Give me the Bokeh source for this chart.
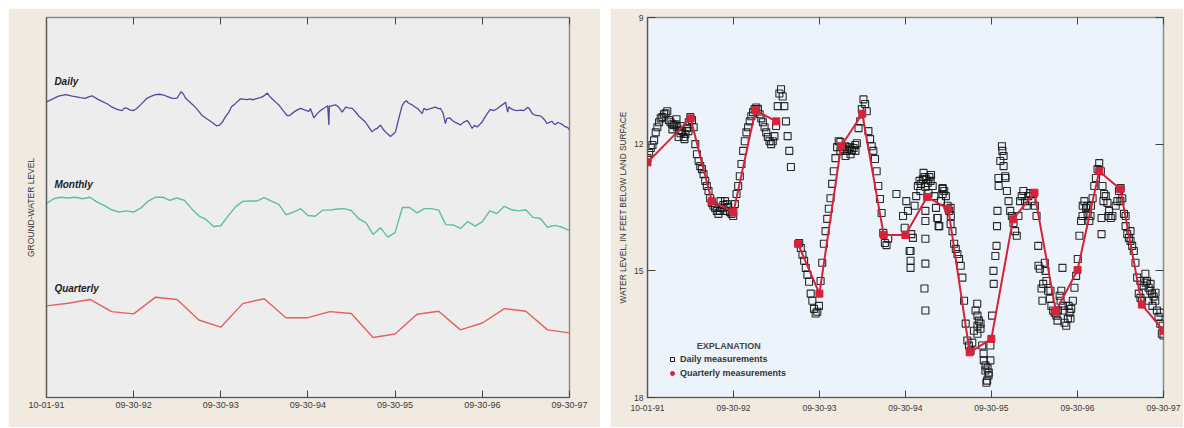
import datetime as dt
import numpy as np
import pandas as pd
from bokeh.plotting import figure
from bokeh.layouts import row, column
from bokeh.models import (Range1d, FixedTicker, DatetimeTickFormatter, DatetimeAxis,
                          LinearAxis, Label, Legend, LegendItem, Spacer)
from bokeh.embed import file_html
from bokeh.resources import INLINE

NAN = float("nan")

# ---------------- data ----------------
tick_dates = ["1991-10-01", "1992-09-30", "1993-09-30", "1994-09-30",
              "1995-09-30", "1996-09-30", "1997-09-30"]

# Left panel (relative ground-water level, arbitrary units)
left_daily_day = [0, 31, 50, 80, 108, 126, 142, 163, 176, 191,
                  212, 230, 254, 272, 296, 317, 327, 338, 348, 363,
                  377, 394, 422, 440, 457, 473, 491, 507, 527, 547,
                  555, 564, 574, 582, 599, 617, 633, 652, 670, 687,
                  700, 712, 725, 736, 750, 764, 775, 792, 813, 825,
                  841, 855, 863, 876, 896, 909, 925, 934, 945, 959,
                  973, 989, 1008, 1018, 1036, 1051, 1064, 1081, 1099, 1106,
                  1120, 1134, 1148, 1162, 1178, 1183, 1185, 1190, 1211, 1223,
                  1239, 1253, 1265, 1281, 1294, 1308, 1320, 1336, 1349, 1364,
                  1374, 1385, 1399, 1408, 1420, 1431, 1441, 1452, 1462, 1472,
                  1481, 1490, 1500, 1508, 1516, 1532, 1542, 1553, 1563, 1574,
                  1581, 1592, 1609, 1617, 1630, 1642, 1650, 1659, 1664, 1671,
                  1677, 1689, 1700, 1713, 1726, 1734, 1747, 1762, 1772, 1783,
                  1793, 1804, 1814, 1825, 1835, 1846, 1860, 1873, 1888, 1898,
                  1909, 1923, 1932, 1937, 1944, 1956, 1972, 1986, 2000, 2016,
                  2023, 2035, 2044, 2056, 2065, 2076, 2086, 2097, 2107, 2118,
                  2124, 2132, 2141, 2153, 2162, 2174, 2183, 2191]
left_daily_level = [77.8, 78.7, 79.3, 79.7, 79.3, 79.1, 78.9, 78.7, 79.1, 79.4,
                    78.6, 78.0, 77.3, 76.5, 75.8, 75.5, 76.2, 76.1, 75.7, 75.5,
                    76.0, 77.0, 78.8, 79.3, 79.7, 79.8, 79.6, 79.2, 78.7, 78.8,
                    79.6, 80.5, 79.8, 78.8, 77.8, 76.8, 75.7, 74.2, 73.4, 72.7,
                    72.1, 71.5, 71.7, 72.4, 73.9, 75.1, 76.5, 77.4, 78.6, 78.5,
                    78.4, 78.6, 78.3, 78.6, 78.9, 79.3, 80.1, 79.3, 78.6, 77.8,
                    77.0, 75.7, 74.2, 74.2, 75.1, 75.7, 76.1, 75.7, 75.3, 76.0,
                    73.6, 74.7, 75.5, 76.1, 76.8, 71.7, 76.7, 76.7, 77.0, 76.5,
                    75.1, 76.4, 76.2, 76.1, 75.2, 74.1, 73.4, 72.5, 71.3, 69.9,
                    70.5, 70.8, 71.7, 70.8, 69.9, 69.3, 68.7, 69.3, 69.9, 72.5,
                    74.7, 76.8, 77.8, 78.1, 77.5, 77.0, 76.5, 76.1, 75.5, 74.7,
                    76.1, 75.7, 76.0, 76.2, 76.4, 76.0, 76.1, 75.2, 74.2, 72.1,
                    73.4, 73.6, 72.9, 72.4, 72.0, 71.7, 72.4, 72.9, 72.1, 70.8,
                    71.6, 71.2, 71.8, 72.5, 73.6, 74.7, 75.8, 75.5, 76.0, 76.5,
                    77.0, 77.7, 75.1, 76.5, 76.1, 75.7, 75.5, 75.6, 75.5, 76.4,
                    76.0, 74.7, 74.4, 74.2, 74.2, 73.8, 73.1, 72.1, 72.4, 72.7,
                    72.1, 71.8, 72.4, 72.1, 71.8, 71.2, 71.1, 70.4]

left_monthly_level = [51.0, 52.3, 52.7, 52.5, 52.7, 52.3, 52.7, 51.4, 50.5, 49.4,
                      48.8, 49.1, 48.8, 49.9, 51.7, 52.7, 52.7, 51.9, 52.5, 51.9,
                      49.7, 47.8, 46.8, 45.0, 45.2, 47.8, 50.1, 51.6, 51.7, 51.7,
                      52.6, 51.7, 50.8, 48.1, 48.8, 49.7, 47.9, 47.7, 49.3, 49.3,
                      49.6, 49.7, 49.2, 47.1, 46.0, 42.9, 44.7, 42.2, 43.4, 50.0,
                      50.0, 48.6, 49.7, 49.7, 49.3, 45.5, 45.4, 44.5, 46.3, 45.1,
                      46.3, 49.1, 48.4, 50.3, 49.4, 49.1, 49.4, 47.4, 47.1, 44.8,
                      45.3, 44.8, 43.9]

left_quarterly_level = [24.1, 24.8, 25.8, 22.6, 22.0, 26.4, 25.8, 20.4, 18.5, 24.7,
                        26.0, 21.0, 21.0, 22.6, 22.1, 15.8, 16.7, 21.9, 22.7, 17.8,
                        19.6, 23.4, 22.7, 17.8, 17.0]

# Right panel: water level, feet below land surface
# daily record read weekly from 1991-10-01 (nan = no record)
daily_ft = [12.33, 12.21, 12.09, 12.02, 11.91, 11.72, 11.60, 11.48, 11.39, 11.36,
            11.29, 11.27, 11.22, 11.43, 11.48, 11.53, 11.55, 11.53, 11.60, 11.67,
            11.74, 11.69, 11.83, 11.76, 11.62, 11.48, 11.36, 11.43, 11.60, 12.00,
            12.24, 12.40, 12.52, 12.59, 12.71, 12.87, 12.99, 13.11, 13.28, 13.39,
            13.46, 13.51, 13.58, 13.65, 13.58, 13.51, 13.44, 13.35, 13.42, 13.49,
            13.61, 13.65, 13.70, 13.42, 13.18, 12.99, 12.76, 12.47, 12.16, 11.93,
            11.72, 11.60, 11.46, 11.34, 11.24, 11.17, 11.13, 11.17, 11.29, 11.39,
            11.48, 11.60, 11.72, 11.83, 11.93, 12.00, 11.93, 11.81, 11.57, 11.10,
            10.80, 10.70, 10.87, 11.10, 11.46, 11.81, 12.16, 12.54, NAN, NAN,
            NAN, NAN, 14.34, 14.46, 14.62, 14.76, 14.93, 15.09, 15.26, 15.54,
            15.71, 15.90, 16.01, 15.97, 15.83, 15.24, 14.81, 14.36, 14.06, 13.77,
            13.53, 13.28, 12.94, 12.64, 12.33, 12.07, 11.93, 11.95, 12.07, 12.12,
            12.05, 12.16, 12.12, 12.07, 12.14, 12.09, 12.02, 11.98, 11.62, 11.46,
            11.17, 10.94, 11.05, 11.22, 11.69, 11.88, 12.05, 12.16, 12.35, 12.64,
            12.99, 13.30, 13.63, 14.10, 14.34, 14.39, 14.24, NAN, NAN, NAN,
            NAN, 13.18, NAN, NAN, NAN, 13.70, 13.98, 13.35, 13.58, 14.53,
            14.13, 14.22, 13.46, 13.23, 12.99, 12.87, 12.94, 12.83, 12.78, 12.83,
            12.92, 12.78, 12.73, 12.99, 13.23, 13.51, 13.75, 13.94, 13.35, 13.06,
            13.11, 13.23, 13.46, 13.58, 13.70, 14.06, 14.36, 14.48, 14.60, 14.72,
            14.88, 15.16, 15.71, 16.25, 16.65, 16.77, 16.89, 16.70, 16.42, 15.94,
            15.78, 16.18, 16.37, 16.77, 17.12, 17.36, 17.60, 17.41, 16.77, 16.06,
            15.31, 14.65, 13.94, 12.99, 12.40, 12.05, 12.28, 12.76, 13.11, 13.35,
            13.58, 13.70, 13.87, 14.06, 14.17, 13.70, 13.35, 13.23, 13.11, 13.35,
            13.46, 13.23, 13.16, 13.35, 13.18, 13.46, 13.70, 14.41, 14.95, 15.42,
            15.31, 14.81, 15.24, 15.47, 15.66, 15.83, 15.94, 15.99, 16.06, 15.94,
            15.59, 15.47, 15.83, 16.23, 16.30, 16.13, 15.99, 15.90, 15.71, 15.40,
            15.12, 14.72, 14.17, 13.82, 13.46, 13.35, 13.51, 13.65, 13.82, 13.46,
            13.28, 12.99, 12.80, 12.59, 12.45, 12.64, 12.99, 13.18, 13.23, 13.39,
            13.58, 13.75, 13.70, NAN, 13.46, 13.35, 13.11, 13.04, 13.28, 13.65,
            13.94, 14.13, 14.22, 14.29, 14.41, 14.53, 14.81, 15.16, 15.54, 15.64,
            15.71, 15.35, 15.07, 15.24, 15.40, 15.47, 15.54, 15.61, 15.71, 15.94,
            16.09, 16.25, 16.49, 16.53]

# additional scattered daily readings (day of record since 1991-10-01, feet)
extra_day = [106, 123, 132, 140, 157, 174, 310, 331, 819, 841, 862, 883,
             1117, 1117, 1117, 1159, 1172, 1180, 1193, 1202, 1180, 1180, 1180, 1180,
             1176, 1180, 1231, 1236, 1253, 1253, 1287, 1287, 1401, 1401, 1401, 1414,
             1427, 1435, 1439, 1444, 1448, 1456, 1469, 1482, 1486, 1490, 1507, 1512,
             1520, 1660, 1677, 1690, 1711, 1741, 1754, 1762, 1766, 1788, 1796, 1847,
             1868, 1881, 1928, 1928, 1936, 1957, 2008, 2030, 2051, 2093, 2115, 2127,
             2136, 2144, 2157, 2178, 2187]
extra_ft = [11.65, 11.41, 11.83, 11.57, 11.88, 11.69, 13.35, 13.58, 12.16, 12.28, 12.24, 12.16,
            14.53, 14.76, 14.93, 13.11, 12.68, 13.01, 13.16, 12.87, 13.58, 13.82, 14.24, 14.83,
            15.42, 15.94, 13.75, 13.94, 13.04, 13.18, 13.51, 13.89, 16.06, 16.30, 16.49, 16.25,
            16.96, 17.24, 17.65, 17.31, 17.48, 17.12, 15.00, 14.41, 13.58, 12.80, 12.16, 12.52,
            12.80, 14.88, 15.71, 15.00, 15.47, 16.18, 15.71, 14.93, 15.94, 15.83, 16.13, 13.70,
            13.46, 13.70, 13.75, 14.13, 13.35, 13.70, 13.35, 13.70, 14.06, 15.24, 15.28, 15.71,
            15.31, 15.83, 15.52, 15.99, 16.30]

quarterly_dates = ["1991-10-01", "1992-04-01", "1992-06-30", "1992-09-30", "1993-01-01",
                   "1993-03-31", "1993-05-15", "1993-07-01", "1993-09-30", "1993-12-31",
                   "1994-03-31", "1994-06-30", "1994-09-30", "1994-12-31", "1995-03-31",
                   "1995-06-30", "1995-09-30", "1995-12-31", "1996-03-31", "1996-06-30",
                   "1996-09-30", "1996-12-31", "1997-03-31", "1997-06-30", "1997-09-30"]
quarterly_ft = [12.43, 11.39, 13.35, 13.61, 11.20,
                11.46, NAN, 14.36, 15.54, 12.05,
                11.28, 14.15, 14.15, 13.25, 13.53,
                16.93, 16.61, 13.78, 13.15, 15.96,
                14.98, 12.64, 13.07, 15.80, 16.42]

# ---------------- derived tables ----------------
start = pd.Timestamp("1991-10-01")
x0 = dt.datetime(1991, 10, 1)
x1 = dt.datetime(1997, 9, 30)
ticks_ms = [pd.Timestamp(d).value // 10**6 for d in tick_dates]

left_daily_x = start + pd.to_timedelta(np.array(left_daily_day), unit="D")
month_end0 = pd.Timestamp("1991-09-30")
left_monthly_x = [month_end0 + pd.offsets.MonthEnd(m) for m in range(len(left_monthly_level))]
left_quarterly_x = [month_end0 + pd.offsets.MonthEnd(3 * q) for q in range(len(left_quarterly_level))]

daily_x = pd.date_range("1991-10-01", periods=len(daily_ft), freq="7D")
extra_x = start + pd.to_timedelta(np.array(extra_day), unit="D")
quarterly_x = pd.to_datetime(quarterly_dates)

BEIGE = "#f0eae0"
FONT = "Liberation Sans"
fmt_keys = ["microseconds", "milliseconds", "seconds", "minsec", "minutes",
            "hourmin", "hours", "days", "months", "years"]


def make_fmt():
    return DatetimeTickFormatter(**{k: "%m-%d-%y" for k in fmt_keys})


def style_bottom(ax, size):
    ax.ticker = FixedTicker(ticks=ticks_ms)
    ax.formatter = make_fmt()
    ax.major_tick_in = 7
    ax.major_tick_out = 0
    ax.minor_tick_line_color = None
    ax.axis_line_color = "#5a5a5a"
    ax.axis_line_width = 1.2
    ax.major_tick_line_color = "#444444"
    ax.major_label_text_font = FONT
    ax.major_label_text_font_size = size
    ax.major_label_text_color = "#3a3a3a"


def top_axis():
    return DatetimeAxis(ticker=FixedTicker(ticks=ticks_ms), formatter=make_fmt(),
                        major_tick_in=7, major_tick_out=0, minor_tick_line_color=None,
                        major_label_text_font_size="0px", major_label_text_color=None,
                        major_label_standoff=0,
                        axis_line_color=None, major_tick_line_color="#444444")


# ---------------- left figure ----------------
pL = figure(width=592, height=419, x_axis_type="datetime",
            x_range=Range1d(x0, x1), y_range=Range1d(0, 100),
            output_backend="svg", toolbar_location=None,
            min_border_left=38, min_border_right=31, min_border_top=9, min_border_bottom=23)
pL.background_fill_color = "#ededed"
pL.border_fill_color = BEIGE
pL.outline_line_color = "#8c8c8c"
pL.outline_line_width = 1.5
pL.grid.visible = False

style_bottom(pL.xaxis[0], "9px")
pL.xaxis[0].major_label_standoff = 4
pL.add_layout(top_axis(), "above")

ya = pL.yaxis[0]
ya.ticker = FixedTicker(ticks=[])
ya.major_tick_out = 0
ya.major_label_standoff = 0
ya.axis_line_color = "#5a5a5a"
ya.axis_line_width = 1.2
ya.axis_label = "GROUND-WATER LEVEL"
ya.axis_label_text_font = FONT
ya.axis_label_text_font_style = "normal"
ya.axis_label_text_font_size = "8.5px"
ya.axis_label_text_color = "#333333"
ya.axis_label_standoff = 11

pL.line(left_daily_x, left_daily_level, line_color="#5a45a0", line_width=1.3)
pL.line(left_monthly_x, left_monthly_level, line_color="#5cc09e", line_width=1.4)
pL.line(left_quarterly_x, left_quarterly_level, line_color="#e2625f", line_width=1.4)

for txt, yy in [("Daily", 83.2), ("Monthly", 56.1), ("Quarterly", 28.7)]:
    pL.add_layout(Label(x=dt.datetime(1991, 11, 3), y=yy, text=txt,
                        text_font=FONT, text_font_style="bold italic",
                        text_font_size="10px", text_color="#222222",
                        text_baseline="middle"))

# ---------------- right figure ----------------
RED = "#d6223a"
pR = figure(width=573, height=419, x_axis_type="datetime",
            x_range=Range1d(x0, x1), y_range=Range1d(18, 9),
            output_backend="svg", toolbar_location=None,
            min_border_left=37, min_border_right=20, min_border_top=8, min_border_bottom=30)
pR.background_fill_color = "#edf3fa"
pR.border_fill_color = BEIGE
pR.outline_line_color = "#8c8c8c"
pR.outline_line_width = 1.5
pR.grid.visible = False

style_bottom(pR.xaxis[0], "8.5px")
pR.xaxis[0].major_label_standoff = 7
pR.add_layout(top_axis(), "above")

yr = pR.yaxis[0]
yr.ticker = FixedTicker(ticks=[9, 12, 15, 18])
yr.major_tick_in = 8
yr.major_tick_out = 0
yr.minor_tick_line_color = None
yr.axis_line_color = "#5a5a5a"
yr.axis_line_width = 1.2
yr.major_tick_line_color = "#444444"
yr.major_label_text_font = FONT
yr.major_label_text_font_size = "8.5px"
yr.major_label_text_color = "#3a3a3a"
yr.major_label_standoff = 4
yr.axis_label = "WATER LEVEL, IN FEET BELOW LAND SURFACE"
yr.axis_label_text_font = FONT
yr.axis_label_text_font_style = "normal"
yr.axis_label_text_font_size = "8.3px"
yr.axis_label_text_color = "#333333"
yr.axis_label_standoff = 3

right_ax = LinearAxis(ticker=FixedTicker(ticks=[9, 12, 15, 18]), major_tick_in=8,
                      major_tick_out=0, minor_tick_line_color=None,
                      major_label_text_font_size="0px", major_label_text_color=None,
                      major_label_standoff=0,
                      axis_line_color=None, major_tick_line_color="#444444")
pR.add_layout(right_ax, "right")

sq = dict(marker="square", size=7, fill_color=None, line_color="#151515",
          line_alpha=0.9, line_width=1.1)
pR.scatter(daily_x, daily_ft, **sq)
pR.scatter(extra_x, extra_ft, **sq)
pR.line(quarterly_x, quarterly_ft, line_color=RED, line_width=2)
pR.scatter(quarterly_x, quarterly_ft, marker="square", size=7,
           fill_color=RED, line_color=RED)

leg_d = pR.scatter(x=[x0], y=[NAN], marker="square", size=7, fill_color=None,
                   line_color="#1a1a1a", line_width=1)
leg_q = pR.scatter(x=[x0], y=[NAN], marker="circle", size=6, fill_color=RED, line_color=RED)
legend = Legend(items=[LegendItem(label="Daily measurements", renderers=[leg_d]),
                       LegendItem(label="Quarterly measurements", renderers=[leg_q])],
                location=(20, 18), background_fill_alpha=0, border_line_color=None,
                label_text_font=FONT, label_text_font_style="bold",
                label_text_font_size="9px", label_text_color="#333333",
                glyph_width=10, glyph_height=10, label_standoff=3, spacing=2,
                padding=0, margin=0, label_height=12)
pR.add_layout(legend)
pR.add_layout(Label(x=dt.datetime(1992, 9, 10), y=16.77, text="EXPLANATION",
                    text_font=FONT, text_font_style="bold", text_font_size="9px",
                    text_color="#444444", text_align="center", text_baseline="middle"))

layout = column(Spacer(height=8),
                row(Spacer(width=8), pL, Spacer(width=10), pR))
open("out.html", "w").write(file_html(layout, INLINE))
